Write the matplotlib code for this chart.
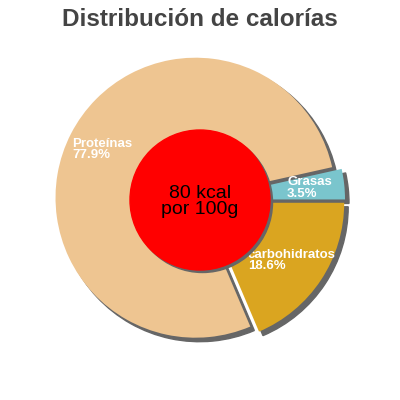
import matplotlib.pyplot as plt
from matplotlib.patches import Wedge, Circle
import numpy as np

labels = ['Grasas', 'Proteínas', 'carbohidratos']
values = [3.5, 77.9, 18.6]
colors = ['#7AC5CD', '#EEC591', '#DAA520']
center_text = '80 kcal\npor 100g'
title = 'Distribución de calorías'

plt.rcParams['font.family'] = ['Liberation Sans', 'DejaVu Sans']

fig = plt.figure(figsize=(4, 4), dpi=100)
ax = fig.add_axes([0, 0, 1, 1])

wedges, _ = ax.pie(values, colors=colors, startangle=0, counterclock=True,
                   explode=[0.036] * 3, radius=1, wedgeprops=dict(linewidth=0))

# grey drop shadow, offset right/down
sh = 4 / 140
for w in wedges:
    s = Wedge((w.center[0] + sh, w.center[1] - sh), w.r, w.theta1, w.theta2,
              color='#666666', zorder=0.5)
    ax.add_patch(s)

for w, lab, v in zip(wedges, labels, values):
    a = np.deg2rad((w.theta1 + w.theta2) / 2)
    x = w.center[0] + 0.75 * np.cos(a)
    y = w.center[1] + 0.75 * np.sin(a)
    ax.text(x, y, f'{lab}\n{v}%', ha='center', va='center', multialignment='left',
            color='white', fontsize=9.5, fontweight='bold', linespacing=0.92, zorder=5)

sc = 2.5 / 140
ax.add_patch(Circle((sc, -sc), 0.5, color='#666666', zorder=5.5))
ax.add_patch(Circle((0, 0), 0.5, color='red', zorder=6))
ax.text(0, -0.01, center_text, ha='center', va='center', fontsize=14,
        linespacing=0.95, color='black', zorder=7)

lim = 200 / 140
ax.set_xlim(-lim, lim)
ax.set_ylim(-lim, lim)
ax.set_aspect('equal')
ax.axis('off')

fig.text(0.5, 1 - 20 / 400, title, ha='center', va='center', fontsize=17.5,
         fontweight='bold', color='#444444')

fig.savefig('out.png', dpi=100)
